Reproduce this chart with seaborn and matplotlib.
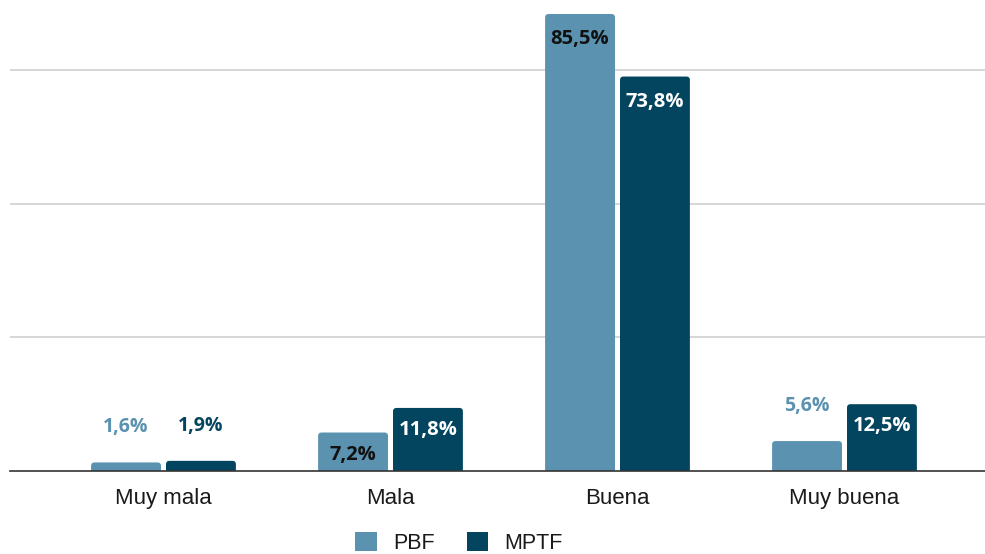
import matplotlib
matplotlib.use("Agg")
import matplotlib.pyplot as plt
import seaborn as sns
import pandas as pd
from matplotlib.patches import Patch, FancyBboxPatch

categories = ["Muy mala", "Mala", "Buena", "Muy buena"]
series = ["PBF", "MPTF"]
pbf = [1.6, 7.2, 85.5, 5.6]
mptf = [1.9, 11.8, 73.8, 12.5]
colors = {"PBF": "#5a92b0", "MPTF": "#03455f"}

df = pd.DataFrame({
    "cat": categories * 2,
    "serie": ["PBF"] * 4 + ["MPTF"] * 4,
    "val": pbf + mptf,
})

sns.set_theme(style="white")
plt.rcParams["font.family"] = ["Liberation Sans", "DejaVu Sans"]

fig = plt.figure(figsize=(9.85, 5.54), dpi=100)
ax = fig.add_axes([10 / 985, 83 / 554, 975 / 985, 461 / 554])

sns.barplot(data=df, x="cat", y="val", hue="serie", order=categories,
            hue_order=series, palette=colors, width=0.66, gap=0.067,
            ax=ax, legend=False, saturation=1)

ax.set_xlim((10 - 163.5) / 227, (985 - 163.5) / 227)
ax.set_ylim(0, 86.25)
ax.set_yticks([25, 50, 75])
ax.set_yticklabels([])
ax.yaxis.grid(True, color="#cfcfcf", linewidth=1.2)
ax.set_axisbelow(True)
for s in ["top", "right", "left"]:
    ax.spines[s].set_visible(False)
ax.spines["bottom"].set_color("#333333")
ax.spines["bottom"].set_linewidth(1.2)
ax.spines["bottom"].set_zorder(5)
ax.set_xlabel("")
ax.set_ylabel("")
ax.tick_params(axis="x", length=0, labelsize=16, colors="#1a1a1a", pad=12)
ax.tick_params(axis="y", length=0)

px_y = 86.25 / 461  # data units per pixel (y)
px_x = 1 / 227      # data units per pixel (x)

# rounded top corners
for container in ax.containers:
    for bar in container:
        x0, w, h = bar.get_x(), bar.get_width(), bar.get_height()
        fb = FancyBboxPatch((x0, -2 * px_y), w, h + 2 * px_y,
                            boxstyle=f"round,pad=0,rounding_size={3.5 * px_x}",
                            mutation_aspect=px_y / px_x,
                            facecolor=bar.get_facecolor(), edgecolor="none",
                            zorder=bar.get_zorder())
        ax.add_patch(fb)
        bar.set_visible(False)

lab_font = ["Open Sans", "DejaVu Sans"]
for container, name, vals in zip(ax.containers, series, [pbf, mptf]):
    for bar, v in zip(container, vals):
        x = bar.get_x() + bar.get_width() / 2
        txt = f"{v:.1f}%".replace(".", ",")
        if v < 5 or (name == "PBF" and v == 5.6):
            ax.text(x, v + 35 * px_y, txt, ha="center", va="center",
                    fontsize=14, fontweight="bold", color=colors[name],
                    family=lab_font)
        else:
            c = "#111111" if name == "PBF" else "white"
            off = 25 if v > 50 else 22
            ax.text(x, v - off * px_y, txt, ha="center", va="center",
                    fontsize=14.5, fontweight="bold", color=c, family=lab_font)

handles = [Patch(facecolor=colors[s], edgecolor="none") for s in series]
fig.legend(handles, series, loc="center", bbox_to_anchor=(459 / 985, 1 - 543 / 554),
           ncol=2, frameon=False, fontsize=15.5, handlelength=1.0, handleheight=1.0,
           columnspacing=1.5, handletextpad=0.75, labelcolor="#1a1a1a",
           borderaxespad=0, borderpad=0)

fig.savefig("out.png", dpi=100)
